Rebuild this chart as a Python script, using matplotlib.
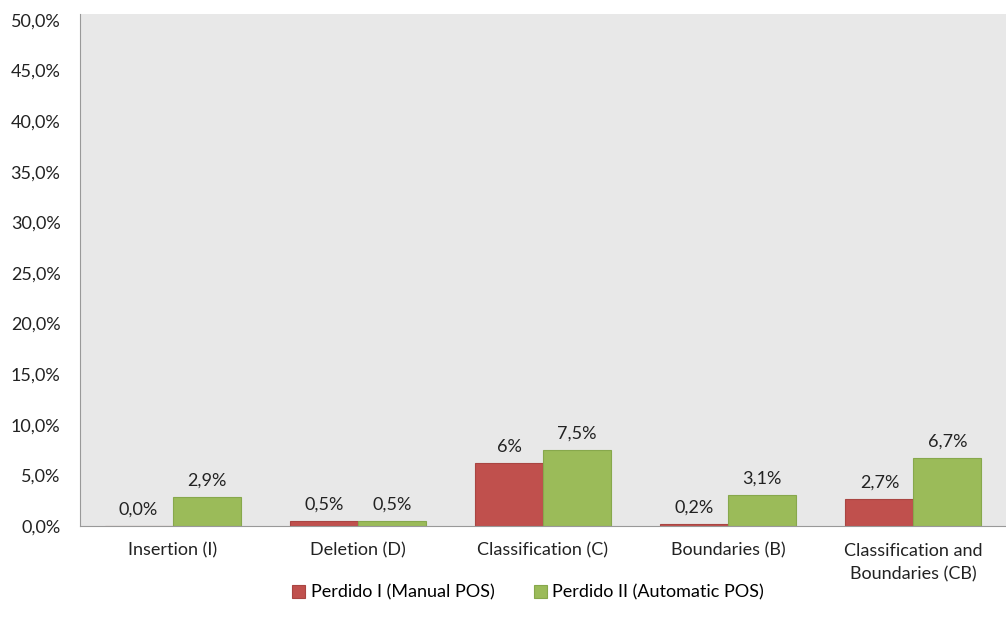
import matplotlib.pyplot as plt
import numpy as np

plt.rcParams['font.family'] = ['Lato', 'DejaVu Sans']

categories = ["Insertion (I)", "Deletion (D)", "Classification (C)",
              "Boundaries (B)", "Classification and\nBoundaries (CB)"]
perdido_1 = [0.0, 0.5, 6.2, 0.2, 2.7]
perdido_2 = [2.9, 0.5, 7.5, 3.1, 6.7]
labels_1 = ["0,0%", "0,5%", "6%", "0,2%", "2,7%"]
labels_2 = ["2,9%", "0,5%", "7,5%", "3,1%", "6,7%"]
series_names = ["Perdido I (Manual POS)", "Perdido II (Automatic POS)"]
yticks = [0, 5, 10, 15, 20, 25, 30, 35, 40, 45, 50]

fig = plt.figure(figsize=(10.06, 6.29), dpi=100)
ax = fig.add_axes([0.0795, 0.1637, 0.9205, 0.8143])
ax.set_facecolor('#e8e8e8')

x = np.arange(len(categories))
w = 0.367
b1 = ax.bar(x - w / 2, perdido_1, w, color='#c0504d', edgecolor='#a94542',
            linewidth=0.8, label=series_names[0])
b2 = ax.bar(x + w / 2, perdido_2, w, color='#9bbb59', edgecolor='#87a84c',
            linewidth=0.8, label=series_names[1])

for bars, labs in [(b1, labels_1), (b2, labels_2)]:
    for rect, lab in zip(bars, labs):
        ax.text(rect.get_x() + rect.get_width() / 2, rect.get_height() + 0.8, lab,
                ha='center', va='bottom', fontsize=13, color='#222222')

ax.set_xlim(-0.5, len(categories) - 0.5)
ax.set_ylim(0, 50.6)
ax.set_yticks(yticks)
ax.set_yticklabels([f"{v:.1f}%".replace('.', ',') for v in yticks])
ax.set_xticks(x)
ax.set_xticklabels(categories, linespacing=1.55)
ax.tick_params(axis='both', length=0, labelsize=13, colors='#222222')
ax.tick_params(axis='y', pad=14)
ax.tick_params(axis='x', pad=12)

for s in ['top', 'right']:
    ax.spines[s].set_visible(False)
ax.spines['left'].set_color('#999999')
ax.spines['bottom'].set_color('#999999')

fig.legend(loc='center', bbox_to_anchor=(0.525, 0.058), ncol=2, frameon=False,
           fontsize=13, handlelength=0.7, handleheight=0.7, handletextpad=0.3,
           columnspacing=2.2)

fig.savefig('out.png', dpi=100)
